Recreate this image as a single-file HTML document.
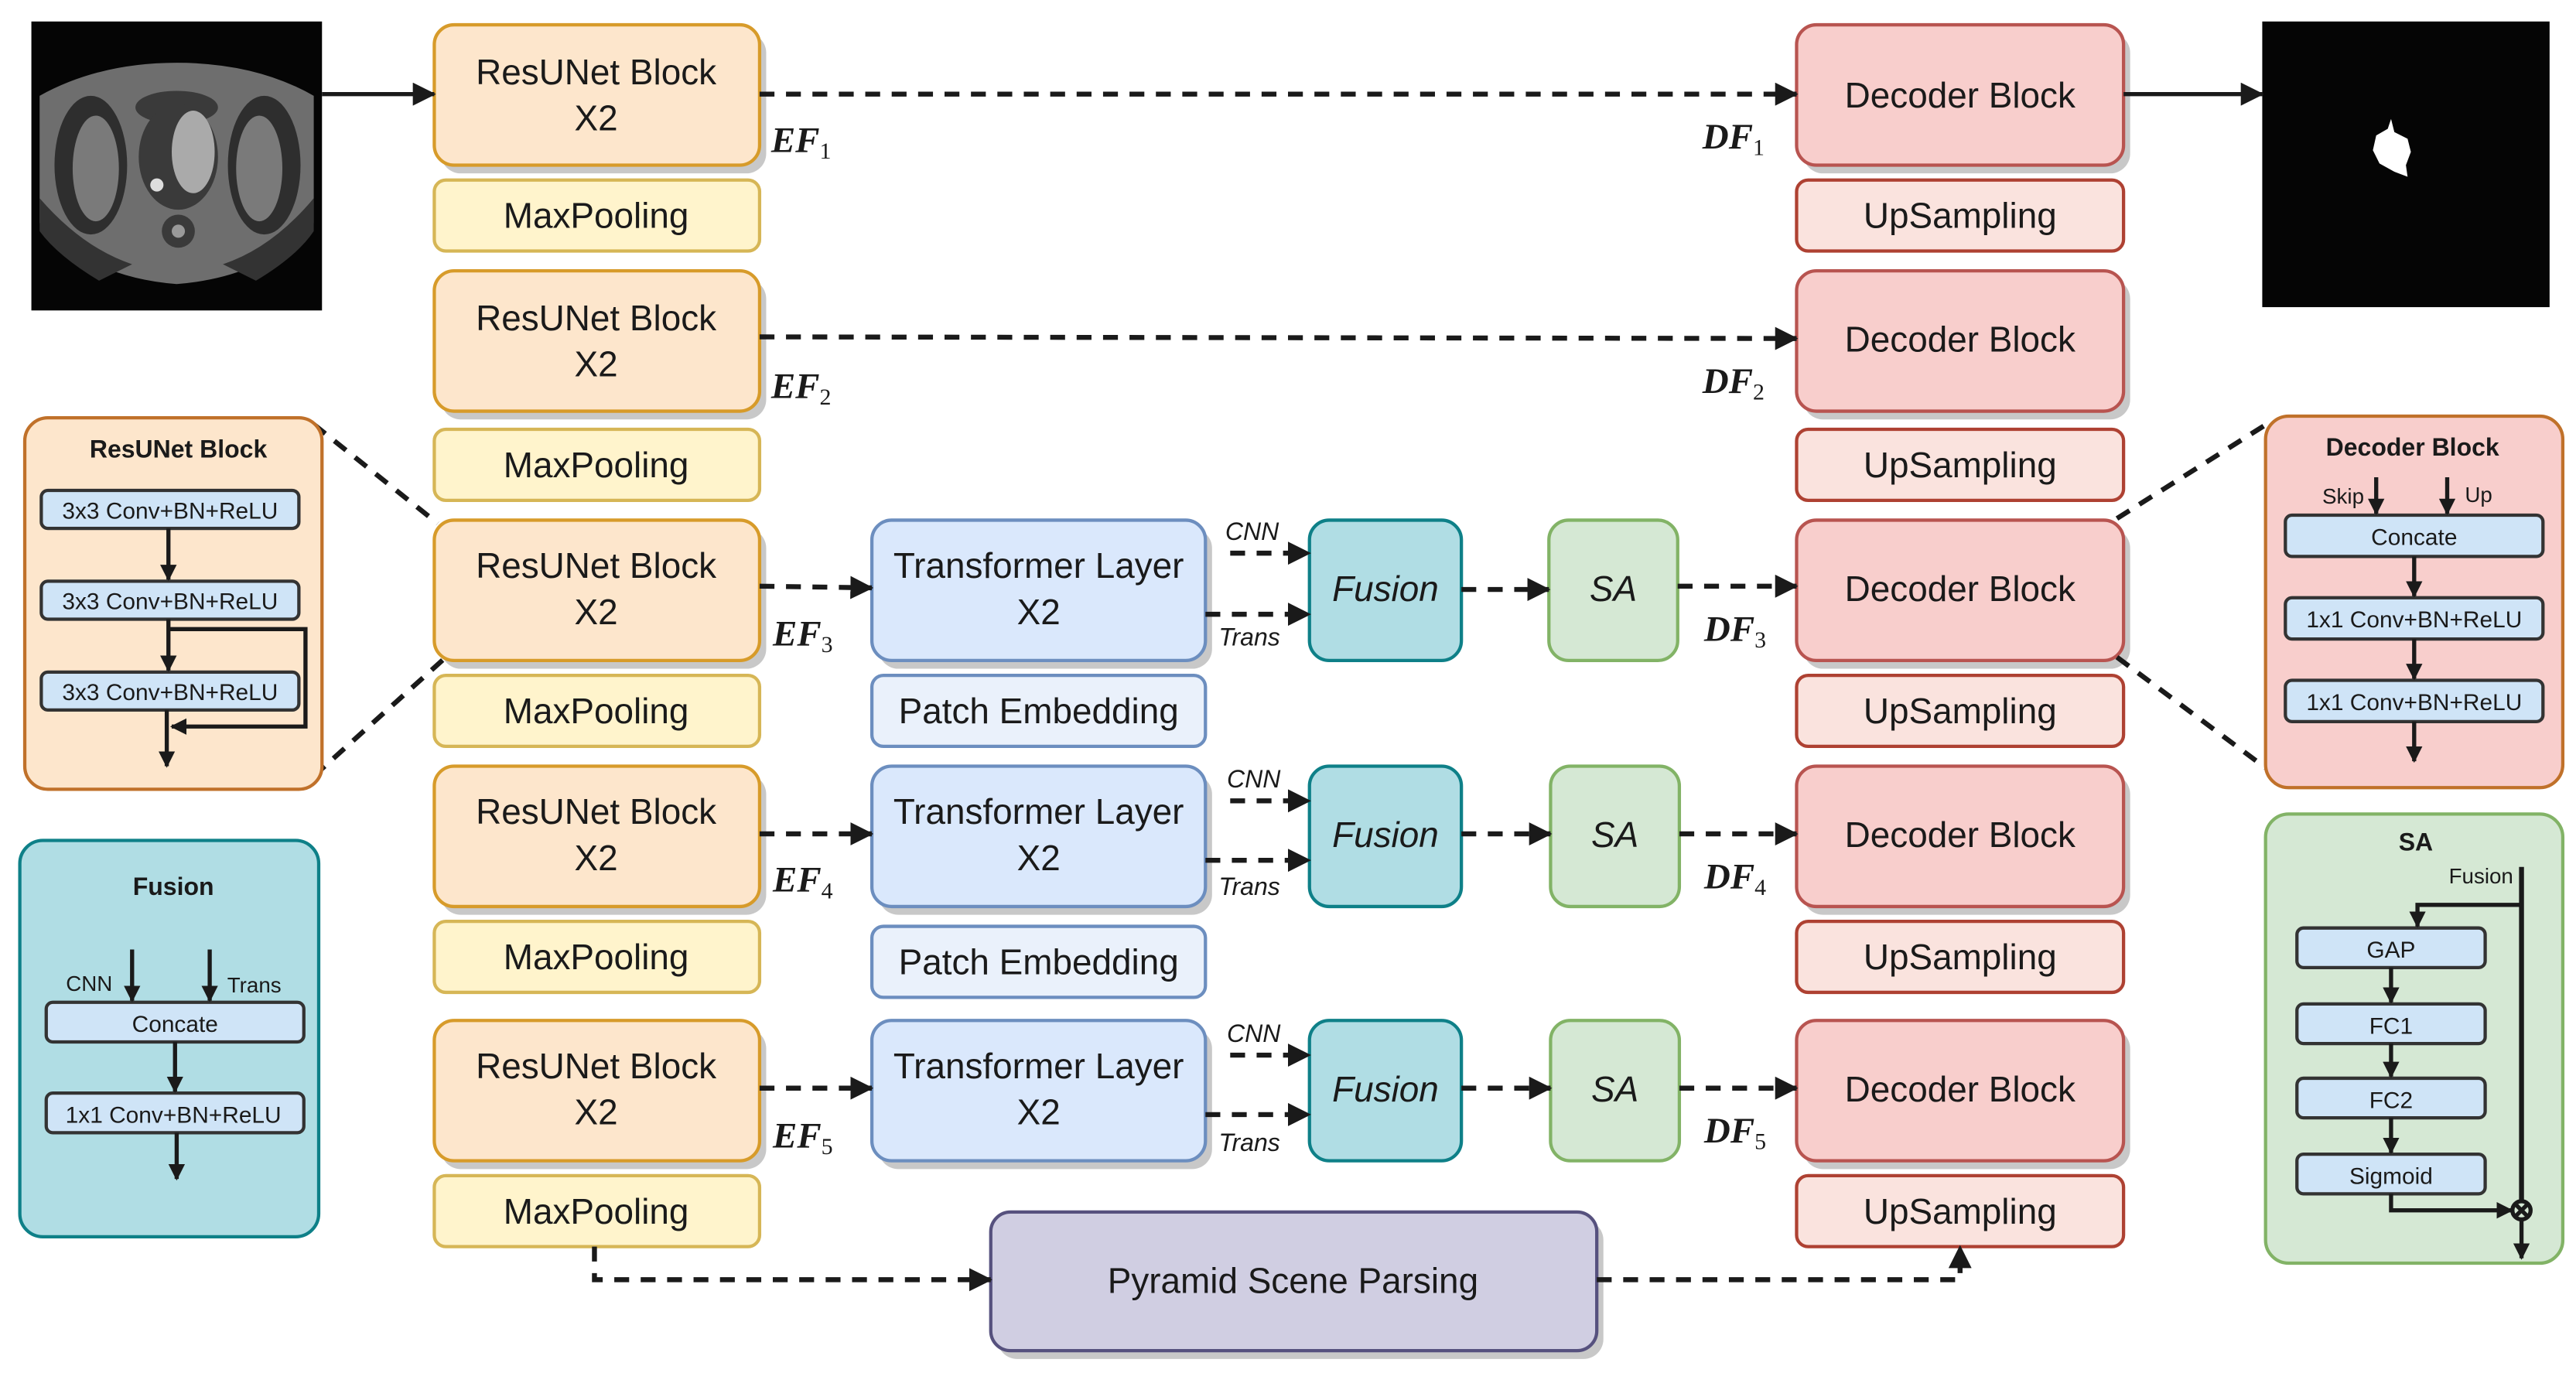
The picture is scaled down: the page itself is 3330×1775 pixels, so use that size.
<!DOCTYPE html>
<html><head><meta charset="utf-8">
<style>
html,body{margin:0;padding:0;background:#fff;}
svg{display:block;}
text{font-family:"Liberation Sans",sans-serif;fill:#1a1a1a;}
.m{font-size:21.5px;text-anchor:middle;}
.s{font-size:14px;text-anchor:middle;}
.t{font-size:15px;font-weight:bold;text-anchor:middle;}
text.ef{font-family:"Liberation Serif",serif;font-style:italic;font-weight:bold;font-size:22px;}
.sub{font-family:"Liberation Serif",serif;font-size:14px;font-weight:normal;font-style:normal;}
.it{font-style:italic;}
.d{stroke:#1a1a1a;stroke-width:3;fill:none;stroke-dasharray:9,7;}
.l{stroke:#1a1a1a;stroke-width:2.5;fill:none;}
</style></head><body>
<svg width="3330" height="1775" viewBox="0 0 1560 831.5" xmlns="http://www.w3.org/2000/svg">
<defs>
<marker id="a" markerWidth="10" markerHeight="10" refX="9" refY="5" orient="auto" markerUnits="userSpaceOnUse"><path d="M0,0 L10,5 L0,10 z" fill="#1a1a1a"/></marker>
<marker id="b" markerWidth="14" markerHeight="14" refX="13" refY="7" orient="auto" markerUnits="userSpaceOnUse"><path d="M0,0 L14,7 L0,14 z" fill="#1a1a1a"/></marker>
</defs>

<!-- input image -->
<rect x="19" y="13" width="176" height="175" fill="#050505"/>
<path d="M24,58 Q60,38 107,38 Q155,38 190,58 L190,135 Q160,168 107,172 Q55,168 24,135 z" fill="#6e6e6e"/>
<ellipse cx="55" cy="100" rx="22" ry="42" fill="#2e2e2e"/>
<ellipse cx="160" cy="100" rx="22" ry="42" fill="#2e2e2e"/>
<ellipse cx="58" cy="102" rx="14" ry="32" fill="#7a7a7a"/>
<ellipse cx="157" cy="102" rx="14" ry="32" fill="#7a7a7a"/>
<path d="M24,120 Q50,150 80,160 L60,170 Q35,155 24,140z" fill="#333"/>
<path d="M190,120 Q165,150 135,160 L155,170 Q180,155 190,140z" fill="#333"/>
<ellipse cx="107" cy="65" rx="25" ry="10" fill="#3a3a3a"/>
<ellipse cx="108" cy="95" rx="24" ry="32" fill="#3a3a3a"/>
<ellipse cx="117" cy="92" rx="13" ry="25" fill="#aaa"/>
<circle cx="108" cy="140" r="10" fill="#3a3a3a"/>
<circle cx="108" cy="140" r="4" fill="#999"/>
<circle cx="95" cy="112" r="4" fill="#ddd"/>

<!-- output image -->
<rect x="1370" y="13" width="174" height="173" fill="#050505"/>
<path d="M1439,82 L1446,78 L1448,72 L1450,80 L1458,84 L1460,92 L1457,100 L1458,107 L1450,104 L1441,99 L1437,91 z" fill="#fff"/>

<!-- shadows -->
<g fill="#c8c8c8">
<rect x="267" y="20" width="197" height="85" rx="12"/>
<rect x="267" y="169" width="197" height="85" rx="12"/>
<rect x="267" y="320" width="197" height="85" rx="12"/>
<rect x="267" y="469" width="197" height="85" rx="12"/>
<rect x="267" y="623" width="197" height="85" rx="12"/>
<rect x="532" y="320" width="202" height="85" rx="12"/>
<rect x="532" y="469" width="202" height="85" rx="12"/>
<rect x="532" y="623" width="202" height="85" rx="12"/>
<rect x="1092" y="20" width="198" height="85" rx="12"/>
<rect x="1092" y="169" width="198" height="85" rx="12"/>
<rect x="1092" y="320" width="198" height="85" rx="12"/>
<rect x="1092" y="469" width="198" height="85" rx="12"/>
<rect x="1092" y="623" width="198" height="85" rx="12"/>
<rect x="604" y="739" width="367" height="84" rx="12"/>
</g>

<!-- ResUNet column -->
<g fill="#fde6cc" stroke="#d79b2a" stroke-width="2">
<rect x="263" y="15" width="197" height="85" rx="12"/>
<rect x="263" y="164" width="197" height="85" rx="12"/>
<rect x="263" y="315" width="197" height="85" rx="12"/>
<rect x="263" y="464" width="197" height="85" rx="12"/>
<rect x="263" y="618" width="197" height="85" rx="12"/>
</g>
<g fill="#fff4cc" stroke="#d6b656" stroke-width="2">
<rect x="263" y="109" width="197" height="43" rx="7"/>
<rect x="263" y="260" width="197" height="43" rx="7"/>
<rect x="263" y="409" width="197" height="43" rx="7"/>
<rect x="263" y="558" width="197" height="43" rx="7"/>
<rect x="263" y="712" width="197" height="43" rx="7"/>
</g>
<text x="361" y="51" class="m">ResUNet Block</text><text x="361" y="79" class="m">X2</text>
<text x="361" y="200" class="m">ResUNet Block</text><text x="361" y="228" class="m">X2</text>
<text x="361" y="350" class="m">ResUNet Block</text><text x="361" y="378" class="m">X2</text>
<text x="361" y="499" class="m">ResUNet Block</text><text x="361" y="527" class="m">X2</text>
<text x="361" y="653" class="m">ResUNet Block</text><text x="361" y="681" class="m">X2</text>
<text x="361" y="138" class="m">MaxPooling</text>
<text x="361" y="289" class="m">MaxPooling</text>
<text x="361" y="438" class="m">MaxPooling</text>
<text x="361" y="587" class="m">MaxPooling</text>
<text x="361" y="741" class="m">MaxPooling</text>

<!-- Transformer column -->
<g fill="#dae8fc" stroke="#6c8ebf" stroke-width="2">
<rect x="528" y="315" width="202" height="85" rx="12"/>
<rect x="528" y="464" width="202" height="85" rx="12"/>
<rect x="528" y="618" width="202" height="85" rx="12"/>
</g>
<g fill="#eaf1fb" stroke="#6c8ebf" stroke-width="2">
<rect x="528" y="409" width="202" height="43" rx="7"/>
<rect x="528" y="561" width="202" height="43" rx="7"/>
</g>
<text x="629" y="350" class="m">Transformer Layer</text><text x="629" y="378" class="m">X2</text>
<text x="629" y="499" class="m">Transformer Layer</text><text x="629" y="527" class="m">X2</text>
<text x="629" y="653" class="m">Transformer Layer</text><text x="629" y="681" class="m">X2</text>
<text x="629" y="438" class="m">Patch Embedding</text>
<text x="629" y="590" class="m">Patch Embedding</text>

<!-- Fusion / SA -->
<g fill="#b0dde4" stroke="#0e8088" stroke-width="2">
<rect x="793" y="315" width="92" height="85" rx="12"/>
<rect x="793" y="464" width="92" height="85" rx="12"/>
<rect x="793" y="618" width="92" height="85" rx="12"/>
</g>
<g fill="#d5e8d4" stroke="#82b366" stroke-width="2">
<rect x="938" y="315" width="78" height="85" rx="12"/>
<rect x="939" y="464" width="78" height="85" rx="12"/>
<rect x="939" y="618" width="78" height="85" rx="12"/>
</g>
<text x="839" y="364" class="m it">Fusion</text>
<text x="839" y="513" class="m it">Fusion</text>
<text x="839" y="667" class="m it">Fusion</text>
<text x="977" y="364" class="m it">SA</text>
<text x="978" y="513" class="m it">SA</text>
<text x="978" y="667" class="m it">SA</text>

<!-- Decoder column -->
<g fill="#f8cecc" stroke="#b85450" stroke-width="2">
<rect x="1088" y="15" width="198" height="85" rx="12"/>
<rect x="1088" y="164" width="198" height="85" rx="12"/>
<rect x="1088" y="315" width="198" height="85" rx="12"/>
<rect x="1088" y="464" width="198" height="85" rx="12"/>
<rect x="1088" y="618" width="198" height="85" rx="12"/>
</g>
<g fill="#fae3de" stroke="#ae4132" stroke-width="2">
<rect x="1088" y="109" width="198" height="43" rx="7"/>
<rect x="1088" y="260" width="198" height="43" rx="7"/>
<rect x="1088" y="409" width="198" height="43" rx="7"/>
<rect x="1088" y="558" width="198" height="43" rx="7"/>
<rect x="1088" y="712" width="198" height="43" rx="7"/>
</g>
<text x="1187" y="65" class="m">Decoder Block</text>
<text x="1187" y="213" class="m">Decoder Block</text>
<text x="1187" y="364" class="m">Decoder Block</text>
<text x="1187" y="513" class="m">Decoder Block</text>
<text x="1187" y="667" class="m">Decoder Block</text>
<text x="1187" y="138" class="m">UpSampling</text>
<text x="1187" y="289" class="m">UpSampling</text>
<text x="1187" y="438" class="m">UpSampling</text>
<text x="1187" y="587" class="m">UpSampling</text>
<text x="1187" y="741" class="m">UpSampling</text>

<!-- PSP -->
<rect x="600" y="734" width="367" height="84" rx="12" fill="#d0cee2" stroke="#56517e" stroke-width="2"/>
<text x="783" y="783" class="m">Pyramid Scene Parsing</text>

<!-- EF / DF labels -->
<text x="467" y="92" class="ef">EF<tspan class="sub" dy="4">1</tspan></text>
<text x="467" y="241" class="ef">EF<tspan class="sub" dy="4">2</tspan></text>
<text x="468" y="391" class="ef">EF<tspan class="sub" dy="4">3</tspan></text>
<text x="468" y="540" class="ef">EF<tspan class="sub" dy="4">4</tspan></text>
<text x="468" y="695" class="ef">EF<tspan class="sub" dy="4">5</tspan></text>
<text x="1031" y="90" class="ef">DF<tspan class="sub" dy="4">1</tspan></text>
<text x="1031" y="238" class="ef">DF<tspan class="sub" dy="4">2</tspan></text>
<text x="1032" y="388" class="ef">DF<tspan class="sub" dy="4">3</tspan></text>
<text x="1032" y="538" class="ef">DF<tspan class="sub" dy="4">4</tspan></text>
<text x="1032" y="692" class="ef">DF<tspan class="sub" dy="4">5</tspan></text>

<text x="742" y="327" class="it" style="font-size:15px">CNN</text>
<text x="738" y="391" class="it" style="font-size:15px">Trans</text>
<text x="743" y="477" class="it" style="font-size:15px">CNN</text>
<text x="738" y="542" class="it" style="font-size:15px">Trans</text>
<text x="743" y="631" class="it" style="font-size:15px">CNN</text>
<text x="738" y="697" class="it" style="font-size:15px">Trans</text>

<!-- connectors -->
<line x1="195" y1="57" x2="263" y2="57" class="l" stroke-width="3" marker-end="url(#b)"/>
<line x1="1286" y1="57" x2="1370" y2="57" class="l" stroke-width="3" marker-end="url(#b)"/>
<line x1="460" y1="57" x2="1088" y2="57" class="d" marker-end="url(#b)"/>
<line x1="460" y1="204" x2="1088" y2="205" class="d" marker-end="url(#b)"/>
<g class="d">
<line x1="460" y1="355" x2="528" y2="356" marker-end="url(#b)"/>
<line x1="745" y1="335" x2="793" y2="335" marker-end="url(#b)"/>
<line x1="730" y1="372" x2="793" y2="372" marker-end="url(#b)"/>
<line x1="885" y1="357" x2="938" y2="357" marker-end="url(#b)"/>
<line x1="1016" y1="355" x2="1088" y2="355" marker-end="url(#b)"/>
<line x1="460" y1="505" x2="528" y2="505" marker-end="url(#b)"/>
<line x1="745" y1="485" x2="793" y2="485" marker-end="url(#b)"/>
<line x1="730" y1="521" x2="793" y2="521" marker-end="url(#b)"/>
<line x1="885" y1="505" x2="939" y2="505" marker-end="url(#b)"/>
<line x1="1017" y1="505" x2="1088" y2="505" marker-end="url(#b)"/>
<line x1="460" y1="659" x2="528" y2="659" marker-end="url(#b)"/>
<line x1="745" y1="639" x2="793" y2="639" marker-end="url(#b)"/>
<line x1="730" y1="675" x2="793" y2="675" marker-end="url(#b)"/>
<line x1="885" y1="659" x2="939" y2="659" marker-end="url(#b)"/>
<line x1="1017" y1="659" x2="1088" y2="659" marker-end="url(#b)"/>
<polyline points="360,755 360,775 600,775" marker-end="url(#b)"/>
<polyline points="967,775 1187,775 1187,755" marker-end="url(#b)"/>
<line x1="190" y1="257" x2="265" y2="317"/>
<line x1="190" y1="470" x2="270" y2="398"/>
<line x1="1282" y1="314" x2="1374" y2="256"/>
<line x1="1282" y1="398" x2="1372" y2="465"/>
</g>

<!-- ResUNet panel -->
<rect x="15" y="253" width="180" height="225" rx="14" fill="#fde6cc" stroke="#c0712a" stroke-width="2"/>
<text x="108" y="277" class="t">ResUNet Block</text>
<g fill="#cfe4f7" stroke="#333" stroke-width="2">
<rect x="25" y="297" width="156" height="23" rx="4"/>
<rect x="25" y="352" width="156" height="23" rx="4"/>
<rect x="25" y="407" width="156" height="23" rx="4"/>
</g>
<text x="103" y="314" class="s">3x3 Conv+BN+ReLU</text>
<text x="103" y="369" class="s">3x3 Conv+BN+ReLU</text>
<text x="103" y="424" class="s">3x3 Conv+BN+ReLU</text>
<g class="l">
<line x1="102" y1="320" x2="102" y2="351" marker-end="url(#a)"/>
<line x1="102" y1="375" x2="102" y2="406" marker-end="url(#a)"/>
<polyline points="102,381 185,381 185,440 104,440" marker-end="url(#a)"/>
<line x1="101" y1="430" x2="101" y2="464" marker-end="url(#a)"/>
</g>

<!-- Fusion panel -->
<rect x="12" y="509" width="181" height="240" rx="14" fill="#b0dde4" stroke="#0e8088" stroke-width="2"/>
<text x="105" y="542" class="t">Fusion</text>
<text x="54" y="600" class="s" style="font-size:13px">CNN</text>
<text x="154" y="601" class="s" style="font-size:13px">Trans</text>
<g fill="#cfe4f7" stroke="#333" stroke-width="2">
<rect x="28" y="607" width="156" height="24" rx="4"/>
<rect x="28" y="662" width="156" height="24" rx="4"/>
</g>
<text x="106" y="625" class="s">Concate</text>
<text x="105" y="680" class="s">1x1 Conv+BN+ReLU</text>
<g class="l">
<line x1="80" y1="575" x2="80" y2="606" marker-end="url(#a)"/>
<line x1="127" y1="575" x2="127" y2="606" marker-end="url(#a)"/>
<line x1="106" y1="631" x2="106" y2="661" marker-end="url(#a)"/>
<line x1="107" y1="686" x2="107" y2="714" marker-end="url(#a)"/>
</g>

<!-- Decoder panel -->
<rect x="1372" y="252" width="180" height="225" rx="14" fill="#f8cecc" stroke="#c0712a" stroke-width="2"/>
<text x="1461" y="276" class="t">Decoder Block</text>
<text x="1419" y="305" class="s" style="font-size:13px">Skip</text>
<text x="1501" y="304" class="s" style="font-size:13px">Up</text>
<g fill="#cfe4f7" stroke="#333" stroke-width="2">
<rect x="1384" y="312" width="156" height="25" rx="4"/>
<rect x="1384" y="362" width="156" height="25" rx="4"/>
<rect x="1384" y="412" width="156" height="25" rx="4"/>
</g>
<text x="1462" y="330" class="s">Concate</text>
<text x="1462" y="380" class="s">1x1 Conv+BN+ReLU</text>
<text x="1462" y="430" class="s">1x1 Conv+BN+ReLU</text>
<g class="l">
<line x1="1439" y1="289" x2="1439" y2="311" marker-end="url(#a)"/>
<line x1="1482" y1="289" x2="1482" y2="311" marker-end="url(#a)"/>
<line x1="1462" y1="337" x2="1462" y2="361" marker-end="url(#a)"/>
<line x1="1462" y1="387" x2="1462" y2="411" marker-end="url(#a)"/>
<line x1="1462" y1="437" x2="1462" y2="461" marker-end="url(#a)"/>
</g>

<!-- SA panel -->
<rect x="1372" y="493" width="180" height="272" rx="14" fill="#d5e8d4" stroke="#82b366" stroke-width="2"/>
<text x="1463" y="515" class="t">SA</text>
<text x="1522" y="535" style="font-size:13px;text-anchor:end">Fusion</text>
<g fill="#cfe4f7" stroke="#333" stroke-width="2">
<rect x="1391" y="562" width="114" height="24" rx="4"/>
<rect x="1391" y="608" width="114" height="24" rx="4"/>
<rect x="1391" y="653" width="114" height="24" rx="4"/>
<rect x="1391" y="699" width="114" height="24" rx="4"/>
</g>
<text x="1448" y="580" class="s">GAP</text>
<text x="1448" y="626" class="s">FC1</text>
<text x="1448" y="671" class="s">FC2</text>
<text x="1448" y="717" class="s">Sigmoid</text>
<g class="l">
<line x1="1527" y1="525" x2="1527" y2="728" stroke-width="3"/>
<polyline points="1527,548 1464,548 1464,561" marker-end="url(#a)"/>
<line x1="1448" y1="586" x2="1448" y2="607" marker-end="url(#a)"/>
<line x1="1448" y1="632" x2="1448" y2="652" marker-end="url(#a)"/>
<line x1="1448" y1="677" x2="1448" y2="698" marker-end="url(#a)"/>
<polyline points="1448,723 1448,733 1521,733" marker-end="url(#a)"/>
<circle cx="1527" cy="733" r="5.5" fill="none"/>
<line x1="1523" y1="729" x2="1531" y2="737"/><line x1="1531" y1="729" x2="1523" y2="737"/>
<line x1="1527" y1="739" x2="1527" y2="762" marker-end="url(#a)"/>
</g>
</svg>
</body></html>
